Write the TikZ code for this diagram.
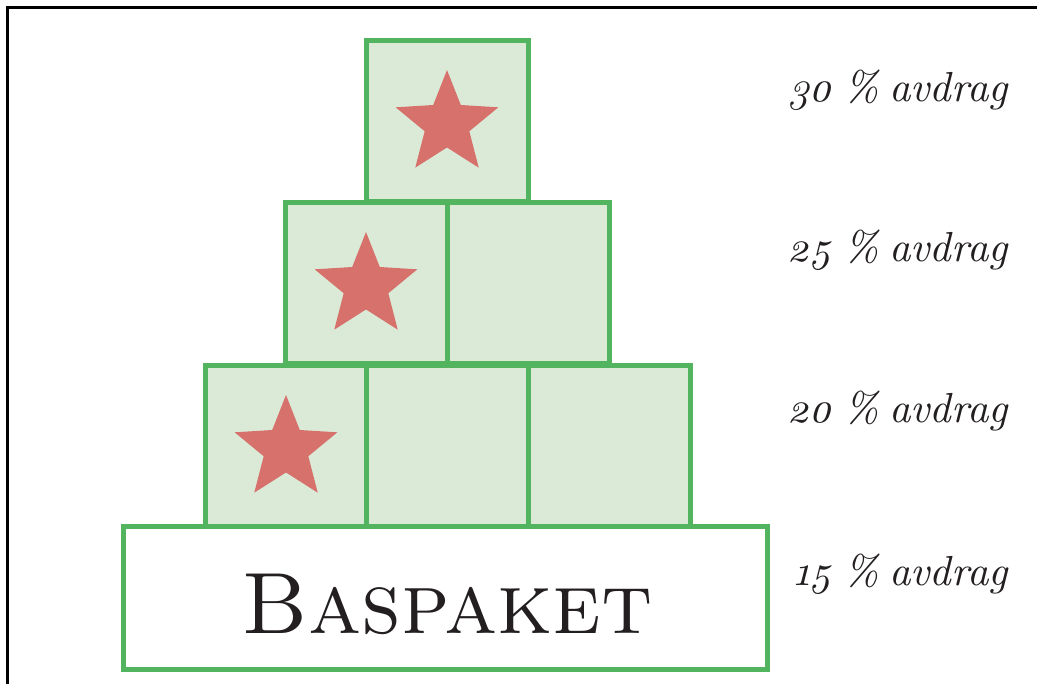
\documentclass[tikz,border=0pt]{standalone}
\usepackage{fontspec}
\usetikzlibrary{shapes.geometric}
\newfontfamily\labelfont{lmroman10-italic.otf}[Numbers=OldStyle]
\definecolor{boxgreen}{HTML}{52B45E}
\definecolor{boxfill}{HTML}{DAEAD7}
\definecolor{starred}{HTML}{D6716C}
\definecolor{ink}{HTML}{231F20}
\tikzset{
  cube/.style={draw=boxgreen, fill=boxfill, line width=5pt,
    minimum width=162pt, minimum height=161pt, inner sep=0pt, outer sep=0pt},
  basebox/.style={draw=boxgreen, fill=white, line width=5pt,
    minimum width=644pt, minimum height=142pt, inner sep=0pt, outer sep=0pt},
  prize/.style={star, star points=5, star point ratio=2.3, fill=starred,
    minimum size=108pt, inner sep=0pt},
  level/.style={anchor=base east, inner sep=0pt, text=ink,
    font=\labelfont\fontsize{42}{48}\selectfont},
  frameline/.style={line width=2.4pt, black}
}
\newcommand{\rate}[1]{#1\hspace{0.3em}\%\hspace{0.25em}avdrag}
\begin{document}
\begin{tikzpicture}[x=1pt, y=-1pt]
  \useasboundingbox (0,0) rectangle (1037,684);
  % frame corner
  \coordinate (fb) at (7.5,684);
  \coordinate (fc) at (7.5,7.5);
  \coordinate (fr) at (1037,7.5);
  \draw[frameline] (fb) -- (fc) -- (fr);

  % base package
  \node[basebox] (base) at (445,598) {};
  \node[anchor=base, inner sep=0pt, text=ink,
        font=\fontsize{87}{87}\selectfont] (basetext) at (447,633) {\textsc{Baspaket}};

  % third row
  \node[cube] (r3a) at (286,446) {};
  \node[cube] (r3b) at (447,446) {};
  \node[cube] (r3c) at (609,446) {};
  % second row
  \node[cube] (r2a) at (366,283) {};
  \node[cube] (r2b) at (528,283) {};
  % top row
  \node[cube] (r1a) at (447,121) {};

  % stars, set a little below the middle of their boxes
  \node[prize] (s3) at ([yshift=-3pt]r3a.center) {};
  \node[prize] (s2) at ([yshift=-3pt]r2a.center) {};
  \node[prize] (s1) at ([yshift=-3pt]r1a.center) {};

  % discount levels
  \node[level] (l1) at (1008,102) {\rate{30}};
  \node[level] (l2) at (1008,262) {\rate{25}};
  \node[level] (l3) at (1008,423) {\rate{20}};
  \node[level] (l4) at (1008,585) {\rate{15}};
\end{tikzpicture}
\end{document}
